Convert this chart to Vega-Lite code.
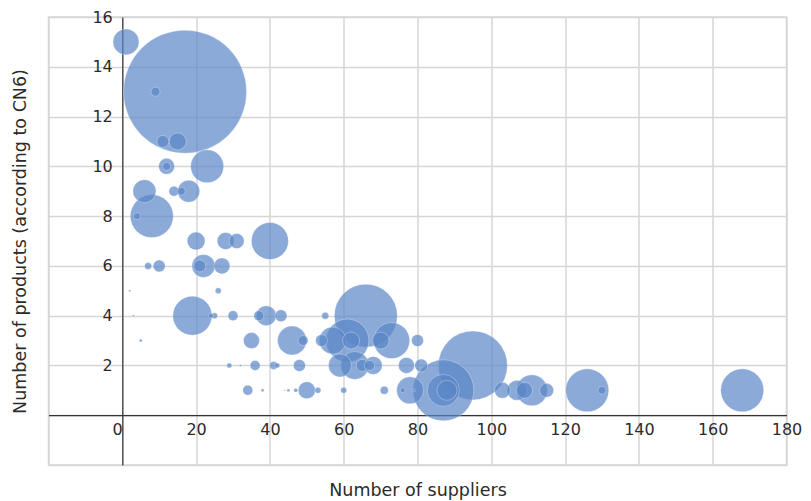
{
  "$schema": "https://vega.github.io/schema/vega-lite/v6.json",
  "width": 738,
  "height": 448,
  "autosize": "none",
  "padding": {"left": 48.5, "top": 17, "right": 24.5, "bottom": 36},
  "background": "white",
  "config": {
    "view": {"stroke": "#d6d6d6", "strokeWidth": 1.5},
    "font": "DejaVu Sans",
    "axis": {
      "labelFont": "DejaVu Sans",
      "titleFont": "DejaVu Sans",
      "labelFontSize": 16,
      "titleFontSize": 17.5,
      "labelColor": "#2b2b2b",
      "titleColor": "#2b2b2b",
      "titleFontWeight": "normal",
      "gridColor": "#d6d6d6",
      "gridWidth": 1.5,
      "domainColor": "#333333",
      "domainWidth": 1.2,
      "ticks": false
    }
  },
  "data": {
    "values": [
      {"suppliers": 1, "products": 15, "value": 676},
      {"suppliers": 9, "products": 13, "value": 81},
      {"suppliers": 17, "products": 13, "value": 15129},
      {"suppliers": 11, "products": 11, "value": 144},
      {"suppliers": 15, "products": 11, "value": 289},
      {"suppliers": 12, "products": 10, "value": 256},
      {"suppliers": 12, "products": 10, "value": 64},
      {"suppliers": 23, "products": 10, "value": 1089},
      {"suppliers": 6, "products": 9, "value": 529},
      {"suppliers": 14, "products": 9, "value": 100},
      {"suppliers": 16, "products": 9, "value": 64},
      {"suppliers": 18, "products": 9, "value": 484},
      {"suppliers": 4, "products": 8, "value": 49},
      {"suppliers": 8, "products": 8, "value": 1849},
      {"suppliers": 20, "products": 7, "value": 324},
      {"suppliers": 28, "products": 7, "value": 289},
      {"suppliers": 31, "products": 7, "value": 225},
      {"suppliers": 40, "products": 7, "value": 1369},
      {"suppliers": 7, "products": 6, "value": 49},
      {"suppliers": 10, "products": 6, "value": 144},
      {"suppliers": 21, "products": 6, "value": 144},
      {"suppliers": 22, "products": 6, "value": 529},
      {"suppliers": 27, "products": 6, "value": 256},
      {"suppliers": 2, "products": 5, "value": 4},
      {"suppliers": 26, "products": 5, "value": 36},
      {"suppliers": 3, "products": 4, "value": 4},
      {"suppliers": 19, "products": 4, "value": 1521},
      {"suppliers": 24, "products": 4, "value": 25},
      {"suppliers": 25, "products": 4, "value": 36},
      {"suppliers": 30, "products": 4, "value": 100},
      {"suppliers": 37, "products": 4, "value": 100},
      {"suppliers": 39, "products": 4, "value": 400},
      {"suppliers": 43, "products": 4, "value": 144},
      {"suppliers": 55, "products": 4, "value": 49},
      {"suppliers": 66, "products": 4, "value": 3969},
      {"suppliers": 5, "products": 3, "value": 9},
      {"suppliers": 35, "products": 3, "value": 256},
      {"suppliers": 46, "products": 3, "value": 841},
      {"suppliers": 49, "products": 3, "value": 100},
      {"suppliers": 54, "products": 3, "value": 144},
      {"suppliers": 57, "products": 3, "value": 729},
      {"suppliers": 61, "products": 3, "value": 1849},
      {"suppliers": 62, "products": 3, "value": 289},
      {"suppliers": 70, "products": 3, "value": 289},
      {"suppliers": 73, "products": 3, "value": 1296},
      {"suppliers": 80, "products": 3, "value": 144},
      {"suppliers": 29, "products": 2, "value": 25},
      {"suppliers": 32, "products": 2, "value": 4},
      {"suppliers": 36, "products": 2, "value": 100},
      {"suppliers": 41, "products": 2, "value": 64},
      {"suppliers": 42, "products": 2, "value": 25},
      {"suppliers": 48, "products": 2, "value": 144},
      {"suppliers": 59, "products": 2, "value": 529},
      {"suppliers": 63, "products": 2, "value": 784},
      {"suppliers": 65, "products": 2, "value": 144},
      {"suppliers": 67, "products": 2, "value": 100},
      {"suppliers": 68, "products": 2, "value": 324},
      {"suppliers": 77, "products": 2, "value": 256},
      {"suppliers": 81, "products": 2, "value": 169},
      {"suppliers": 95, "products": 2, "value": 4761},
      {"suppliers": 34, "products": 1, "value": 100},
      {"suppliers": 38, "products": 1, "value": 9},
      {"suppliers": 44, "products": 1, "value": 2},
      {"suppliers": 45, "products": 1, "value": 9},
      {"suppliers": 47, "products": 1, "value": 16},
      {"suppliers": 50, "products": 1, "value": 289},
      {"suppliers": 53, "products": 1, "value": 36},
      {"suppliers": 60, "products": 1, "value": 36},
      {"suppliers": 71, "products": 1, "value": 64},
      {"suppliers": 76, "products": 1, "value": 25},
      {"suppliers": 78, "products": 1, "value": 729},
      {"suppliers": 79, "products": 1, "value": 9},
      {"suppliers": 87, "products": 1, "value": 3721},
      {"suppliers": 87, "products": 1, "value": 1024},
      {"suppliers": 88, "products": 1, "value": 400},
      {"suppliers": 103, "products": 1, "value": 256},
      {"suppliers": 107, "products": 1, "value": 400},
      {"suppliers": 109, "products": 1, "value": 256},
      {"suppliers": 111, "products": 1, "value": 961},
      {"suppliers": 115, "products": 1, "value": 196},
      {"suppliers": 126, "products": 1, "value": 1849},
      {"suppliers": 130, "products": 1, "value": 64},
      {"suppliers": 168, "products": 1, "value": 1849}
    ]
  },
  "mark": {
    "type": "point",
    "shape": "circle",
    "filled": true,
    "fill": "#5a86c8",
    "fillOpacity": 0.7,
    "stroke": "#ffffff",
    "strokeOpacity": 0.3,
    "strokeWidth": 1
  },
  "encoding": {
    "x": {
      "field": "suppliers",
      "type": "quantitative",
      "title": "Number of suppliers",
      "scale": {"domain": [-20, 180], "nice": false, "zero": false},
      "axis": {
        "values": [-20, 0, 20, 40, 60, 80, 100, 120, 140, 160, 180],
        "labelExpr": "datum.value == -20 ? '' : datum.label",
        "labelAlign": {"condition": {"test": "datum.value == 0", "value": "right"}, "value": "center"},
        "labelPadding": 6,
        "offset": -49.8,
        "grid": true,
        "domain": true,
        "titleY": 75,
        "titleBaseline": "middle"
      }
    },
    "y": {
      "field": "products",
      "type": "quantitative",
      "title": "Number of products (according to CN6)",
      "scale": {"domain": [-2, 16], "nice": false, "zero": false},
      "axis": {
        "values": [-2, 0, 2, 4, 6, 8, 10, 12, 14, 16],
        "labelExpr": "(datum.value == -2 || datum.value == 0) ? '' : datum.label",
        "labelPadding": 10,
        "offset": -73.8,
        "grid": true,
        "domain": true,
        "titleX": -102,
        "titleBaseline": "middle"
      }
    },
    "size": {
      "field": "value",
      "type": "quantitative",
      "scale": {"domain": [0, 15129], "range": [0, 15129], "zero": true},
      "legend": null
    },
    "order": {"field": "value", "sort": "descending"}
  }
}
